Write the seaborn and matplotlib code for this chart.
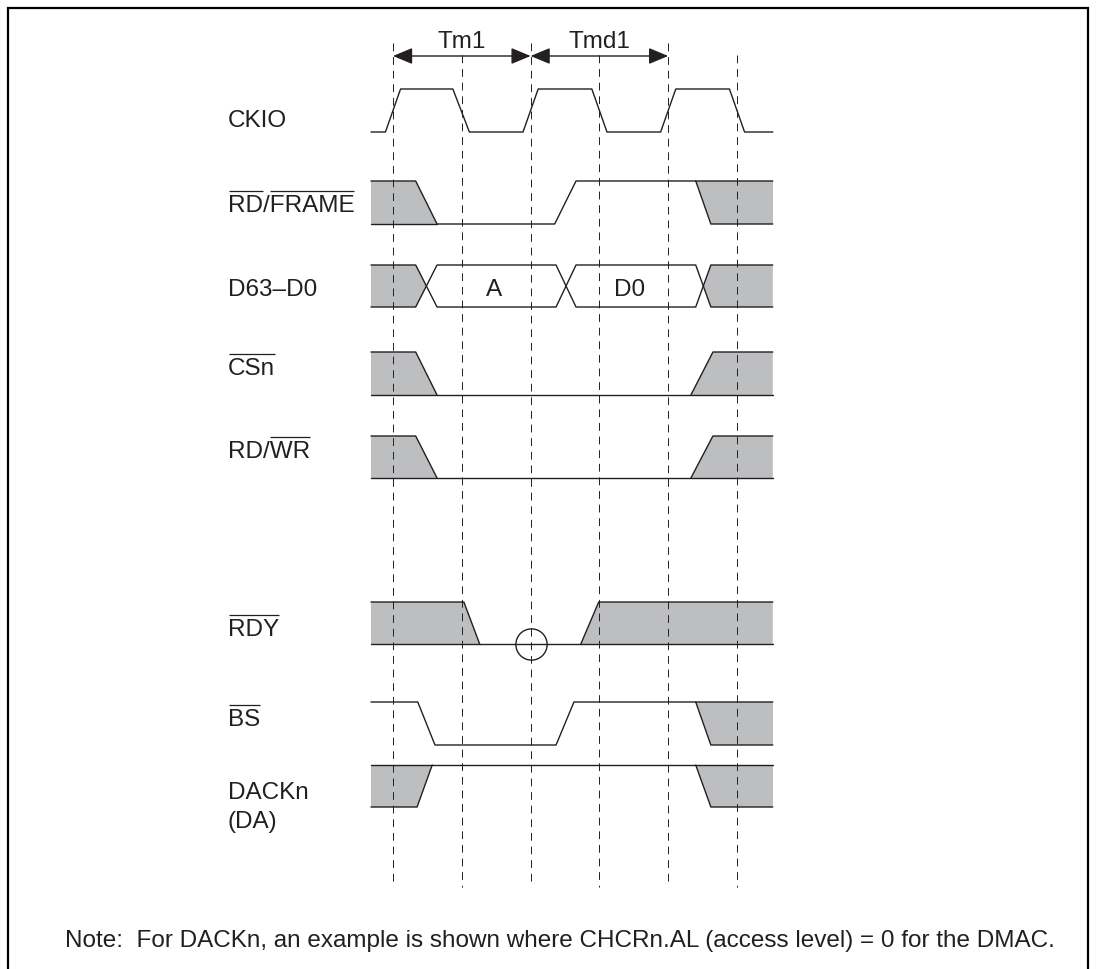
import matplotlib
matplotlib.use("Agg")
import numpy as np
import pandas as pd
import seaborn as sns
import matplotlib.pyplot as plt

# time axis in half clock cycles, dashed reference lines at 0..5
T0, T1 = -0.32, 5.52
ref_times = [0, 1, 2, 3, 4, 5]
periods = [("Tm1", 0, 2), ("Tmd1", 2, 4)]

# waveforms: level 1 = high, 0 = low
clk_t = [T0, -0.11, 0.11, 0.87, 1.11, 1.89, 2.11, 2.89, 3.11, 3.89, 4.11, 4.89, 5.11, T1]
clk_v = [0, 0, 1, 1, 0, 0, 1, 1, 0, 0, 1, 1, 0, 0]

rd_frame_lines = [[(T0, 1), (0.33, 1), (0.64, 0), (2.35, 0), (2.66, 1), (T1, 1)],
                  [(T0, 0), (0.64, 0)],
                  [(4.40, 1), (4.62, 0), (T1, 0)]]
rd_frame_grey = [[(T0, 1), (0.33, 1), (0.64, 0), (T0, 0)],
                 [(4.40, 1), (T1, 1), (T1, 0), (4.62, 0)]]

data_lines = [[(T0, 1), (0.33, 1), (0.64, 0), (2.37, 0), (2.66, 1), (4.40, 1), (4.62, 0), (T1, 0)],
              [(T0, 0), (0.33, 0), (0.64, 1), (2.37, 1), (2.66, 0), (4.40, 0), (4.62, 1), (T1, 1)]]
data_grey = [[(T0, 1), (0.33, 1), (0.485, 0.5), (0.33, 0), (T0, 0)],
             [(4.51, 0.5), (4.62, 1), (T1, 1), (T1, 0), (4.62, 0)]]
data_values = [("A", 1.47), ("D0", 3.44)]

cs_lines = [[(T0, 1), (0.33, 1), (0.64, 0)], [(T0, 0), (T1, 0)], [(4.33, 0), (4.65, 1), (T1, 1)]]
cs_grey = [[(T0, 1), (0.33, 1), (0.64, 0), (T0, 0)], [(4.33, 0), (4.65, 1), (T1, 1), (T1, 0)]]

rdwr_lines = [[(T0, 1), (0.33, 1), (0.64, 0)], [(T0, 0), (T1, 0)], [(4.33, 0), (4.65, 1), (T1, 1)]]
rdwr_grey = [[(T0, 1), (0.33, 1), (0.64, 0), (T0, 0)], [(4.33, 0), (4.65, 1), (T1, 1), (T1, 0)]]

rdy_lines = [[(T0, 1), (1.03, 1), (1.26, 0)], [(T0, 0), (T1, 0)], [(2.73, 0), (2.99, 1), (T1, 1)]]
rdy_grey = [[(T0, 1), (1.03, 1), (1.26, 0), (T0, 0)], [(2.73, 0), (2.99, 1), (T1, 1), (T1, 0)]]
rdy_sample = (2.0, 0)

bs_lines = [[(T0, 1), (0.36, 1), (0.61, 0), (2.37, 0), (2.63, 1), (T1, 1)],
            [(4.40, 1), (4.62, 0), (T1, 0)]]
bs_grey = [[(4.40, 1), (T1, 1), (T1, 0), (4.62, 0)]]

dack_lines = [[(T0, 1), (T1, 1)], [(T0, 0), (0.35, 0), (0.57, 1)], [(4.40, 1), (4.62, 0), (T1, 0)]]
dack_grey = [[(T0, 1), (0.57, 1), (0.35, 0), (T0, 0)], [(4.40, 1), (T1, 1), (T1, 0), (4.62, 0)]]

signal_names = ["CKIO", "RD/FRAME", "D63\u2013D0", "CSn", "RD/WR", "RDY", "BS", "DACKn"]
overbars = {"RD/FRAME": [(0, 2), (3, 8)], "CSn": [(0, 3)], "RD/WR": [(3, 5)],
            "RDY": [(0, 3)], "BS": [(0, 2)]}
note = "Note:  For DACKn, an example is shown where CHCRn.AL (access level) = 0 for the DMAC."

waves = {
    "CKIO": ([list(zip(clk_t, clk_v))], []),
    "RD/FRAME": (rd_frame_lines, rd_frame_grey),
    "D63\u2013D0": (data_lines, data_grey),
    "CSn": (cs_lines, cs_grey),
    "RD/WR": (rdwr_lines, rdwr_grey),
    "RDY": (rdy_lines, rdy_grey),
    "BS": (bs_lines, bs_grey),
    "DACKn": (dack_lines, dack_grey),
}

# layout (pixels): high y, low y, label baseline
rows = {
    "CKIO": (89, 132, 127),
    "RD/FRAME": (181, 224, 212),
    "D63\u2013D0": (265, 307, 296),
    "CSn": (352, 395, 375),
    "RD/WR": (436, 478, 458),
    "RDY": (602, 644, 636),
    "BS": (702, 745, 726),
    "DACKn": (765, 807, 799),
}
X0, DX = 393.0, 68.8
W, H = 1096, 969
INK = "#231f20"
GREY = "#bcbec0"
FS = 17.5


def px(x):
    return (x - X0) / DX


def ypos(name, v):
    hi, lo, _ = rows[name]
    return lo - v * (lo - hi)


sns.set_theme(style="white")
plt.rcParams["font.family"] = ["Liberation Sans", "DejaVu Sans"]

fig = plt.figure(figsize=(W / 100, H / 100), dpi=100)
ax = fig.add_axes([0, 0, 1, 1])

# frame
ax.plot([px(7.5), px(7.5), px(1088), px(1088)], [H + 5, 7.5, 7.5, H + 5],
        color="black", lw=1.6, solid_joinstyle="miter", clip_on=False)

# dashed reference lines
for i, t in enumerate(ref_times):
    top = 43 if i % 2 == 0 else 55
    ax.plot([t, t], [top, 887], color=INK, lw=0.7, linestyle=(0, (8, 6)))

# period arrows
for label, a, b in periods:
    ax.annotate("", xy=(b, 56), xytext=(a, 56),
                arrowprops=dict(arrowstyle="<|-|>,head_length=0.6,head_width=0.25",
                                color=INK, lw=1.0, shrinkA=0, shrinkB=0, mutation_scale=20))
    ax.text((a + b) / 2, 48, label, ha="center", va="baseline", fontsize=FS, color=INK)

# waveforms
for name in signal_names:
    lines, greys = waves[name]
    for poly in greys:
        ts = [p[0] for p in poly]
        ys = [ypos(name, p[1]) for p in poly]
        ax.fill(ts, ys, color=GREY, lw=0)
    for seg in lines:
        df = pd.DataFrame({"t": [p[0] for p in seg], "y": [ypos(name, p[1]) for p in seg]})
        sns.lineplot(data=df, x="t", y="y", sort=False, estimator=None, ax=ax,
                     color=INK, lw=1.0)
ax.set_xlim(px(0), px(W))
ax.set_ylim(H, 0)
ax.axis("off")

for txt, t in data_values:
    ax.text(t, rows["D63\u2013D0"][2], txt, ha="center", va="baseline", fontsize=FS, color=INK)

ax.plot([rdy_sample[0]], [ypos("RDY", rdy_sample[1])], marker="o", ms=22.5,
        mfc="none", mec=INK, mew=1.0)

# labels with overbars
fig.canvas.draw()
renderer = fig.canvas.get_renderer()


def text_width(s):
    if not s:
        return 0.0
    tmp = ax.text(0, 0, s, fontsize=FS)
    w = tmp.get_window_extent(renderer).width
    tmp.remove()
    return w


for name in signal_names:
    base = rows[name][2]
    ax.text(px(228), base, name, ha="left", va="baseline", fontsize=FS, color=INK)
    for a, b in overbars.get(name, []):
        x0 = 228 + text_width(name[:a]) + 0.5
        x1 = 228 + text_width(name[:b]) - 0.5
        ax.plot([px(x0), px(x1)], [base - 21.5, base - 21.5], color=INK, lw=0.9,
                solid_capstyle="butt")
ax.text(px(228), 828, "(DA)", ha="left", va="baseline", fontsize=FS, color=INK)

ax.text(px(65), 947, note, ha="left", va="baseline", fontsize=FS, color=INK)

fig.savefig("out.png", dpi=100)
